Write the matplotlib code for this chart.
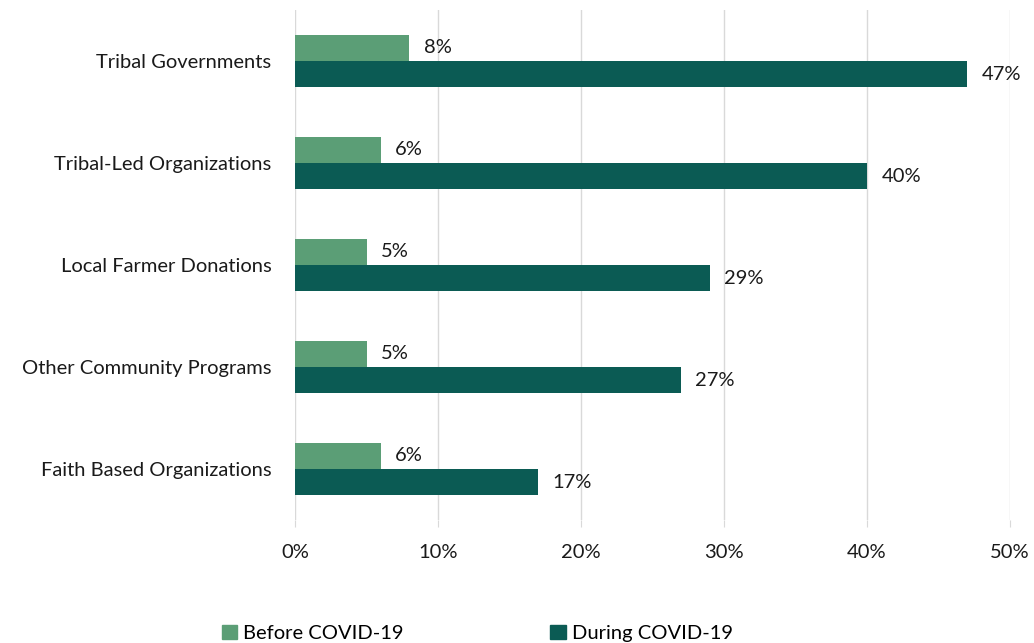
import matplotlib
matplotlib.use("Agg")
import matplotlib.pyplot as plt
from matplotlib.patches import Patch
import numpy as np

categories = ["Tribal Governments", "Tribal-Led Organizations", "Local Farmer Donations",
              "Other Community Programs", "Faith Based Organizations"]
before = [8, 6, 5, 5, 6]
during = [47, 40, 29, 27, 17]
series_names = ["Before COVID-19", "During COVID-19"]
xticks = [0, 10, 20, 30, 40, 50]

c_before = "#5B9E76"
c_during = "#0B5B54"
tc = "#1a1a1a"
fs = 14.5

plt.rcParams['font.family'] = ['Lato', 'DejaVu Sans']

fig = plt.figure(figsize=(10.34, 6.43), dpi=100)
ax = fig.add_axes([295/1034, 1 - 520/643, (1010-295)/1034, 510/643])

y = np.arange(len(categories))
h = 0.255
ax.barh(y - h/2, before, height=h, color=c_before, zorder=3)
ax.barh(y + h/2, during, height=h, color=c_during, zorder=3)

for yi, b, d in zip(y, before, during):
    ax.text(b + 1.0, yi - h/2, f"{b}%", va="center", ha="left", fontsize=fs, color=tc)
    ax.text(d + 1.0, yi + h/2, f"{d}%", va="center", ha="left", fontsize=fs, color=tc)

ax.set_xlim(0, 50)
ax.set_ylim(len(categories) - 0.5, -0.5)
ax.set_yticks(y)
ax.set_yticklabels(categories, fontsize=fs, color=tc)
ax.set_xticks(xticks)
ax.set_xticklabels([f"{t}%" for t in xticks], fontsize=fs, color=tc)
ax.tick_params(axis="y", length=0, pad=17)
ax.tick_params(axis="x", length=5, color="#d9d9d9", pad=12)
ax.grid(axis="x", color="#d9d9d9", linewidth=1, zorder=0)
for s in ax.spines.values():
    s.set_visible(False)

handles = [Patch(color=c_before), Patch(color=c_during)]
fig.legend(handles, series_names, loc="center", bbox_to_anchor=(0.4615, 0.015), ncol=2,
           frameon=False, fontsize=fs, handlelength=0.75, handleheight=0.75,
           handletextpad=0.3, columnspacing=7.3)

fig.savefig("out.png", dpi=100)
